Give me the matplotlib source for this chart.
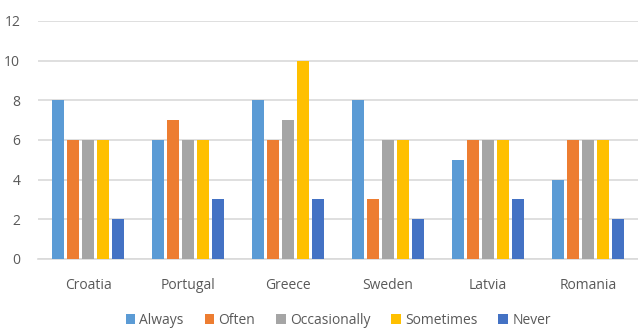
import matplotlib
matplotlib.use("Agg")
import matplotlib.pyplot as plt
import numpy as np

countries = ["Croatia", "Portugal", "Greece", "Sweden", "Latvia", "Romania"]
series_names = ["Always", "Often", "Occasionally", "Sometimes", "Never"]
always = [8, 6, 8, 8, 5, 4]
often = [6, 7, 6, 3, 6, 6]
occasionally = [6, 6, 7, 6, 6, 6]
sometimes = [6, 6, 10, 6, 6, 6]
never = [2, 3, 3, 2, 3, 2]

colors = ["#5B9BD5", "#ED7D31", "#A5A5A5", "#FFC000", "#4472C4"]

plt.rcParams["font.family"] = ["Open Sans", "DejaVu Sans"]

fig = plt.figure(figsize=(6.38, 3.32), dpi=100)
ax = fig.add_axes([0.06, 0.22, 0.94, 0.717])

x = np.arange(len(countries))
width = 0.12
step = 0.15
for i, (name, vals) in enumerate(zip(series_names, [always, often, occasionally, sometimes, never])):
    ax.bar(x + (i - 2) * step, vals, width, color=colors[i], label=name, zorder=3)

ax.set_xlim(-0.5, len(countries) - 0.5)
ax.set_ylim(0, 12)
ax.set_yticks(range(0, 13, 2))
ax.set_xticks(x)
ax.set_xticklabels(countries)
ax.grid(axis="y", color="#d9d9d9", linewidth=1.2, zorder=0)
for s in ["top", "right", "left"]:
    ax.spines[s].set_visible(False)
ax.spines["bottom"].set_color("#d9d9d9")
ax.spines["bottom"].set_linewidth(1.2)
ax.tick_params(length=0, colors="#595959", labelsize=10)
ax.tick_params(axis="x", pad=14)
ax.tick_params(axis="y", pad=13)

ax.legend(loc="upper center", bbox_to_anchor=(0.5, -0.175), ncol=5, frameon=False,
          fontsize=10, handlelength=0.7, handleheight=0.7, handletextpad=0.3,
          columnspacing=1.5, labelcolor="#595959")

fig.savefig("out.png", dpi=100)
